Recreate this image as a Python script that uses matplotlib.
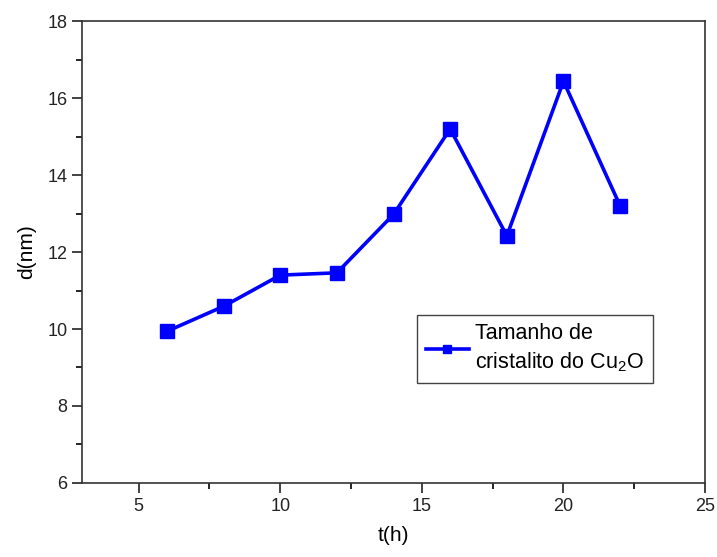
import matplotlib.pyplot as plt
from matplotlib.ticker import MultipleLocator

plt.rcParams['font.family'] = ['Liberation Sans', 'DejaVu Sans']

t_hours = [6, 8, 10, 12, 14, 16, 18, 20, 22]
d_nm = [9.94, 10.59, 11.40, 11.46, 12.98, 15.20, 12.42, 16.44, 13.20]
series_label = "Tamanho de\ncristalito do Cu$_\\mathregular{2}$O"

fig = plt.figure(figsize=(7.17, 5.57), dpi=100)
ax = fig.add_axes([0.1144, 0.133, 0.869, 0.829])

ax.plot(t_hours, d_nm, color='#0000ff', lw=2.6, marker='s', ms=10.5,
        markeredgecolor='#0000ff', label=series_label)

ax.set_xlim(3, 25)
ax.set_ylim(6, 18)
ax.xaxis.set_major_locator(MultipleLocator(5))
ax.xaxis.set_minor_locator(MultipleLocator(2.5))
ax.yaxis.set_major_locator(MultipleLocator(2))
ax.yaxis.set_minor_locator(MultipleLocator(1))
ax.tick_params(which='major', direction='out', length=7, width=1.2, labelsize=13, colors='#222222')
ax.tick_params(which='minor', direction='out', length=4, width=1.2)
for s in ax.spines.values():
    s.set_linewidth(1.2)
    s.set_color('#333333')

ax.set_xlabel("t(h)", fontsize=15, labelpad=8)
ax.set_ylabel("d(nm)", fontsize=15, labelpad=8)

leg = ax.legend(loc='upper left', bbox_to_anchor=(0.538, 0.364), fontsize=15.5,
                frameon=True, fancybox=False, framealpha=1, edgecolor='#444444',
                handlelength=2.0, handletextpad=0.3, borderpad=0.4,
                borderaxespad=0, markerscale=0.6, labelspacing=0.2)
leg.get_frame().set_linewidth(1.0)
for txt in leg.get_texts():
    txt.set_linespacing(1.35)

plt.savefig('out.png', dpi=100)
